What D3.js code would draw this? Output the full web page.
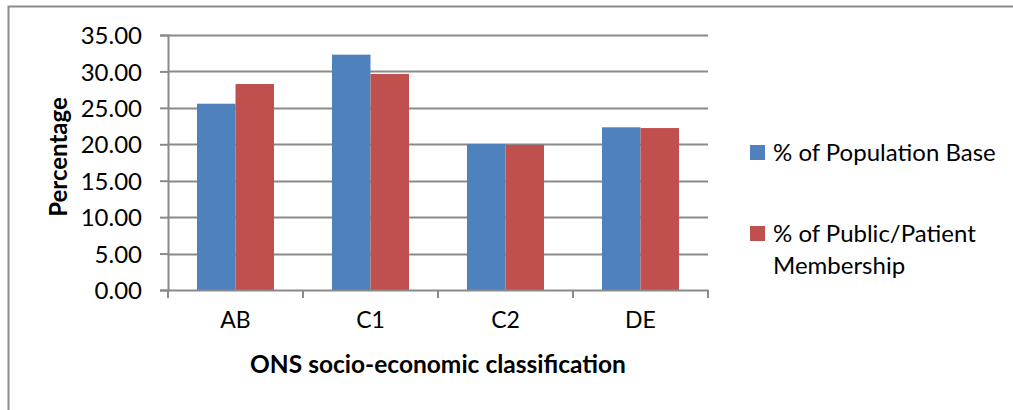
<!DOCTYPE html>
<html>
<head>
<meta charset="utf-8">
<title>ONS socio-economic classification</title>
<script src="https://cdn.jsdelivr.net/npm/d3@7"></script>
<style>
  body { margin: 0; background: #fff; }
  text { font-family: Lato, "Open Sans", sans-serif; fill: #000; }
</style>
</head>
<body>
<svg id="svg"></svg>
<script>
// chart values
var categories = ["AB", "C1", "C2", "DE"];
var seriesNames = ["% of Population Base", "% of Public/Patient Membership"];
var populationBase = [25.57, 32.3, 20.04, 22.33];
var publicMembership = [28.27, 29.65, 19.92, 22.23];
var yTicks = [0, 5, 10, 15, 20, 25, 30, 35];
var colors = ["#4f81bd", "#c0504d"];

var width = 1013, height = 410;
var plot = {left: 168, right: 708, top: 35, bottom: 290};

var svg = d3.select("#svg").attr("width", width).attr("height", height);

// outer chart border (right and bottom edges fall outside the picture)
svg.append("rect")
  .attr("x", 8.5).attr("y", 6.5)
  .attr("width", 1040).attr("height", 420)
  .attr("fill", "none").attr("stroke", "#8c8c8c").attr("stroke-width", 2);

var x0 = d3.scaleBand().domain(categories).range([plot.left, plot.right]);
var x1 = d3.scaleBand().domain([0, 1]).range([0, 77]);
var y = d3.scaleLinear().domain([0, 35]).range([plot.bottom, plot.top]);

// gridlines
svg.append("g").selectAll("line")
  .data(yTicks.slice(1))
  .enter().append("line")
  .attr("x1", plot.left).attr("x2", plot.right)
  .attr("y1", function(d) { return Math.round(y(d)) + 0.5; })
  .attr("y2", function(d) { return Math.round(y(d)) + 0.5; })
  .attr("stroke", "#8a8a8a").attr("stroke-width", 2);

// bars
var groups = svg.append("g").selectAll("g")
  .data(categories)
  .enter().append("g")
  .attr("transform", function(d) { return "translate(" + (x0(d) + (x0.bandwidth() - 77) / 2) + ",0)"; });

groups.selectAll("rect")
  .data(function(d, i) { return [populationBase[i], publicMembership[i]]; })
  .enter().append("rect")
  .attr("x", function(d, j) { return x1(j); })
  .attr("width", x1.bandwidth())
  .attr("y", function(d) { return y(d); })
  .attr("height", function(d) { return y(0) - y(d); })
  .attr("fill", function(d, j) { return colors[j]; });

// y axis
var axisY = d3.axisLeft(y).tickValues(yTicks).tickSize(8).tickPadding(18)
  .tickFormat(d3.format(".2f"));
var gy = svg.append("g").attr("transform", "translate(" + plot.left + ",0)").call(axisY);
gy.selectAll("path, line").attr("stroke", "#8a8a8a").attr("stroke-width", 2);
gy.selectAll("text").style("font-size", "24px").attr("dy", "0.36em");

// x axis
var axisX = d3.axisBottom(x0).tickSize(0).tickPadding(22);
var gx = svg.append("g").attr("transform", "translate(0," + plot.bottom + ")").call(axisX);
gx.select("path").attr("stroke", "#8a8a8a").attr("stroke-width", 2);
gx.selectAll("text").style("font-size", "23px");
gx.selectAll("line.sep")
  .data(d3.range(categories.length + 1))
  .enter().append("line")
  .attr("class", "sep")
  .attr("x1", function(i) { return plot.left + i * x0.bandwidth(); })
  .attr("x2", function(i) { return plot.left + i * x0.bandwidth(); })
  .attr("y1", 0).attr("y2", 8)
  .attr("stroke", "#8a8a8a").attr("stroke-width", 2);

// axis titles
svg.append("text")
  .attr("x", 438).attr("y", 373)
  .style("text-anchor", "middle").style("font-weight", "bold").style("font-size", "24.5px")
  .text("ONS socio-economic classification");

svg.append("text")
  .attr("transform", "translate(67,157)rotate(-90)")
  .style("text-anchor", "middle").style("font-weight", "bold").style("font-size", "24px")
  .text("Percentage");

// legend
var legend = svg.append("g");
legend.append("rect").attr("x", 750).attr("y", 145).attr("width", 15).attr("height", 15).attr("fill", colors[0]);
legend.append("text").attr("x", 773).attr("y", 161).style("font-size", "24px").text(seriesNames[0]);
legend.append("rect").attr("x", 750).attr("y", 226).attr("width", 15).attr("height", 15).attr("fill", colors[1]);
legend.append("text").attr("x", 773).attr("y", 242).style("font-size", "24px").text("% of Public/Patient");
legend.append("text").attr("x", 773).attr("y", 274).style("font-size", "24px").text("Membership");
</script>
</body>
</html>
